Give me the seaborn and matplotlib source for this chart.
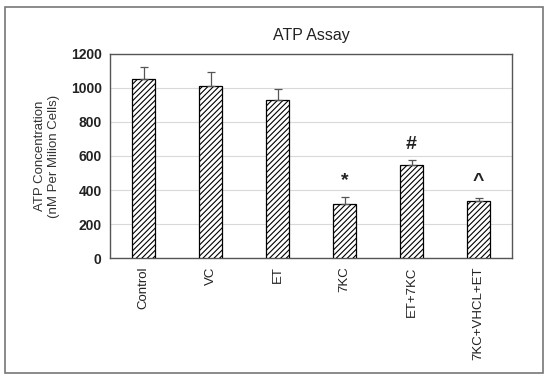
import numpy as np
import pandas as pd
import matplotlib
matplotlib.use("Agg")
import matplotlib.pyplot as plt
import seaborn as sns
from matplotlib.patches import Rectangle

# Data
groups = ["Control", "VC", "ET", "7KC", "ET+7KC", "7KC+VHCL+ET"]
atp = [1055, 1010, 930, 320, 545, 335]
err = [70, 85, 65, 40, 30, 20]
marks = ["", "", "", "*", "#", "^"]

sns.set_style("white")
plt.rcParams['font.family'] = ['Liberation Sans', 'DejaVu Sans']
plt.rcParams['hatch.linewidth'] = 0.8

df = pd.DataFrame({"group": groups, "atp": atp})

fig = plt.figure(figsize=(5.5, 3.8), dpi=100)
ax = fig.add_axes([0.2, 0.321, 0.731, 0.537])

sns.barplot(data=df, x="group", y="atp", color="white", width=0.33,
            edgecolor="black", linewidth=0.9, ax=ax, zorder=3)
for p in ax.patches:
    p.set_hatch("//////")
    p.set_facecolor("white")

ax.errorbar(range(len(groups)), atp, yerr=[np.zeros(len(err)), err], fmt="none",
            ecolor="#555555", elinewidth=0.9, capsize=3, capthick=0.9, zorder=4)

for i, m in enumerate(marks):
    if m:
        ax.text(i, atp[i] + err[i] + 45, m, ha="center", va="bottom",
                fontsize=14, fontweight="bold", color="#222222")

ax.set_ylim(0, 1200)
ax.set_xlim(-0.5, len(groups) - 0.5)
ax.set_yticks(range(0, 1201, 200))
ax.yaxis.grid(True, color="#d9d9d9", linewidth=0.8, zorder=0)
ax.set_axisbelow(True)
ax.set_xlabel("")
ax.set_ylabel("ATP Concentration\n(nM Per Milion Cells)", fontsize=9.5, color="#333333", labelpad=8)
ax.set_title("ATP Assay", fontsize=11.5, color="#222222", pad=10)
ax.tick_params(axis="x", labelrotation=90, labelsize=9.5, colors="#222222", length=0, pad=6)
ax.tick_params(axis="y", labelsize=10, colors="#222222", length=0, pad=6)
for lab in ax.get_yticklabels():
    lab.set_fontweight("bold")
for s in ax.spines.values():
    s.set_color("#555555")
    s.set_linewidth(1.0)

fig.patches.append(Rectangle((5 / 550, 7 / 380), 538 / 550, 366 / 380, transform=fig.transFigure,
                             fill=False, edgecolor="#777777", linewidth=1.2))

fig.savefig("out.png", dpi=100)
